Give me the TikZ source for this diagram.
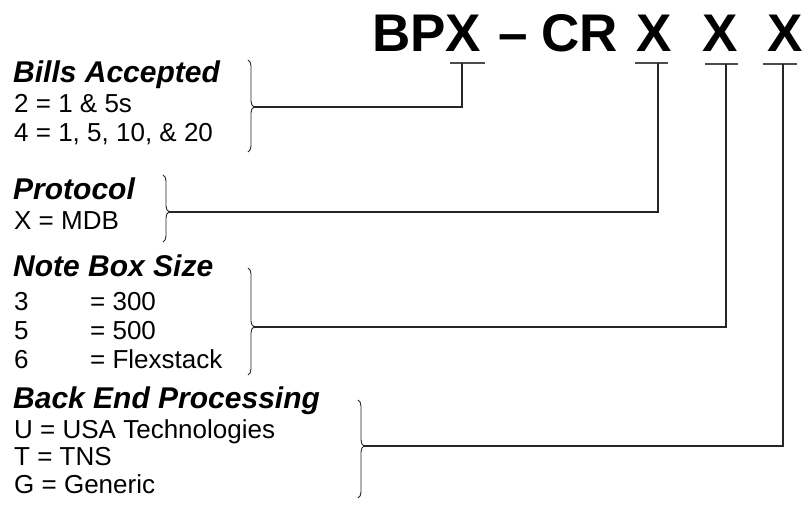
\documentclass[tikz,border=0pt]{standalone}
\usepackage{fontspec}
\setmainfont{Liberation Sans}
\usetikzlibrary{decorations.pathreplacing}
\begin{document}
\begin{tikzpicture}[x=1pt,y=-1pt,
  head/.style={font=\fontsize{30}{30}\selectfont\bfseries\itshape, anchor=base west, inner sep=0},
  body/.style={font=\fontsize{26}{26}\selectfont, anchor=base west, inner sep=0},
  ttl/.style={font=\fontsize{53}{53}\selectfont\bfseries, anchor=base west, inner sep=0},
  ul/.style={line width=1.6pt, draw=black!70},
  conn/.style={line width=1.1pt, draw=black!85},
  brc/.style={decorate, decoration={brace, amplitude=6pt, aspect=#1}, line width=0.9pt, draw=black!85}]
\useasboundingbox (0,0) rectangle (804,505);
% title
\node[ttl] (t1) at (372,52) {BPX};
\node[ttl] (t2) at (498,52) {–};
\node[ttl] (t3) at (541,52) {CR};
\node[ttl] (x2) at (636,52) {X};
\node[ttl] (x3) at (702,52) {X};
\node[ttl] (x4) at (767,52) {X};
% underlines
\coordinate (u1) at (462,63);
\coordinate (u2) at (658,63);
\coordinate (u3) at (726,64);
\coordinate (u4) at (783,64);
\draw[ul] (450,63) -- (485,63);
\draw[ul] (635,63) -- (668,63);
\draw[ul] (705,64) -- (738,64);
\draw[ul] (763,64) -- (797,64);
% Bills Accepted
\node[head] (h1) at (13,83) {Bills Accepted};
\node[body] (b11) at (14,113) {2 = 1 \& 5s};
\node[body] (b12) at (14,142) {4 = 1, 5, 10, \& 20};
\draw[brc=0.51] (248,60) -- (248,152);
\coordinate (k1) at (254,107);
% Protocol
\node[head] (h2) at (13,200) {Protocol};
\node[body] (b21) at (14,230) {X = MDB};
\draw[brc=0.55] (163,175) -- (163,242);
\coordinate (k2) at (169,212);
% Note Box Size
\node[head] (h3) at (13,277) {Note Box Size};
\node[body] (b31) at (14,311) {3};
\node[body] (b31v) at (90,311) {= 300};
\node[body] (b32) at (14,340) {5};
\node[body] (b32v) at (90,340) {= 500};
\node[body] (b33) at (14,368) {6};
\node[body] (b33v) at (90,368) {= Flexstack};
\draw[brc=0.55] (248,268) -- (248,375);
\coordinate (k3) at (254,327);
% Back End Processing
\node[head] (h4) at (13,408) {Back End Processing};
\node[body] (b41) at (14,438) {U = USA Technologies};
\node[body] (b42) at (14,465) {T = TNS};
\node[body] (b43) at (14,493) {G = Generic};
\draw[brc=0.47] (358,400) -- (358,498);
\coordinate (k4) at (364,446);
% connectors
\draw[conn] (k1) -| (u1);
\draw[conn] (k2) -| (u2);
\draw[conn] (k3) -| (u3);
\draw[conn] (k4) -| (u4);
\end{tikzpicture}
\end{document}
